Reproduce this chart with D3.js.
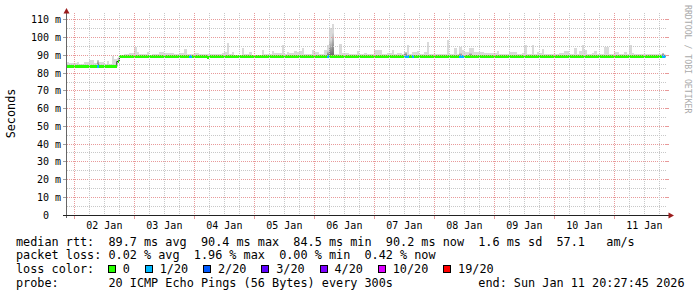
<!DOCTYPE html>
<html>
<head>
<meta charset="utf-8">
<script src="https://cdn.jsdelivr.net/npm/d3@7"></script>
<style>
body { margin: 0; background: #fff; }
text { font-family: "DejaVu Sans Mono", monospace; }
</style>
</head>
<body>
<div id="chart"></div>
<script>
// time window of the graph
const startTime = new Date(2026, 0, 1, 20, 27, 45);
const endTime = new Date(2026, 0, 11, 20, 27, 45);
const firstHour = new Date(2026, 0, 1, 20);

// hourly median rtt (ms), one per hour from firstHour
const medianRtt = [
  84.5, 84.5, 84.5, 84.5, 84.5, 84.5, 84.5, 84.5, 84.5, 84.5, 84.5, 84.5, 84.5, 84.5, 84.5, 84.5, 84.5, 84.5, 84.5, 84.5, 84.5, 87.5, 90.2, 90.2,
  90.2, 90.2, 90.2, 90.2, 90.2, 90.2, 90.2, 90.2, 90.2, 90.2, 90.2, 90.2, 90.2, 90.2, 90.2, 90.2, 90.2, 90.2, 90.2, 90.2, 90.2, 90.2, 90.2, 90.2,
  90.2, 90.2, 90.2, 90.2, 90.2, 90.2, 90.2, 90.2, 90.2, 89.4, 90.2, 90.2, 90.2, 90.2, 90.2, 90.2, 90.2, 90.2, 90.2, 90.2, 90.2, 90.2, 90.2, 90.2,
  90.2, 90.2, 90.2, 90.2, 90.2, 90.2, 90.2, 90.2, 90.2, 90.2, 90.2, 90.2, 90.2, 90.2, 90.2, 90.2, 90.2, 90.2, 90.2, 90.2, 90.2, 90.2, 90.2, 90.2,
  90.2, 90.2, 90.2, 90.2, 90.2, 90.2, 90.2, 90.2, 90.2, 90.2, 90.2, 90.2, 90.2, 90.2, 90.2, 90.2, 90.2, 90.2, 90.2, 90.2, 90.2, 90.2, 90.2, 90.2,
  90.2, 90.2, 90.2, 90.2, 90.2, 90.2, 90.2, 90.2, 90.2, 90.2, 90.2, 90.2, 90.2, 90.2, 90.2, 90.2, 90.2, 90.2, 90.2, 90.2, 90.2, 90.2, 90.2, 90.2,
  90.2, 90.2, 90.2, 90.2, 90.2, 90.2, 90.2, 90.2, 90.2, 90.2, 90.2, 90.2, 90.2, 90.2, 90.2, 90.2, 90.2, 90.2, 90.2, 90.2, 90.2, 90.2, 90.2, 90.2,
  90.2, 90.2, 90.2, 90.2, 90.2, 90.2, 90.2, 90.2, 90.2, 90.2, 90.2, 90.2, 90.2, 90.2, 90.2, 90.2, 90.2, 90.2, 90.2, 90.2, 90.2, 90.2, 90.2, 90.2,
  90.2, 90.2, 90.2, 90.2, 90.2, 90.2, 90.2, 90.2, 90.2, 90.2, 90.2, 90.2, 90.2, 90.2, 90.2, 90.2, 90.2, 90.2, 90.2, 90.2, 90.2, 90.2, 90.2, 90.2,
  90.2, 90.2, 90.2, 90.2, 90.2, 90.2, 90.2, 90.2, 90.2, 90.2, 90.2, 90.2, 90.2, 90.2, 90.2, 90.2, 90.2, 90.2, 90.2, 90.2, 90.2, 90.2, 90.2, 90.2, 90.2
];

// hourly max ping (top of the smoke), ms
const smokeMax = [
  86.6, 86.6, 86.0, 86.0, 86.0, 86.6, 85.7, 85.7, 86.6, 86.6, 87.9, 87.9, 86.2, 87.9, 86.6, 86.6, 85.7, 87.2, 85.7, 89.8, 88.5, 89.0, 90.8, 90.8,
  91.3, 91.3, 91.9, 91.9, 95.1, 92.3, 91.3, 91.3, 91.3, 92.3, 90.8, 91.3, 91.3, 91.3, 92.4, 92.4, 91.9, 91.9, 91.7, 91.7, 91.3, 91.3, 91.7, 91.7,
  94.1, 91.3, 91.3, 91.3, 91.7, 91.7, 91.3, 91.3, 91.3, 91.0, 91.3, 91.0, 91.0, 91.3, 91.3, 91.7, 92.3, 97.5, 91.0, 92.3, 90.8, 90.8, 90.8, 94.5,
  91.0, 91.0, 92.3, 90.8, 90.8, 90.8, 90.8, 93.6, 91.0, 91.0, 91.0, 92.8, 91.7, 91.7, 91.7, 96.0, 91.3, 92.3, 91.7, 91.7, 92.8, 92.3, 92.8, 94.5,
  91.3, 91.3, 91.3, 93.6, 92.3, 92.3, 91.0, 91.0, 93.6, 96.0, 105.5, 108.0, 91.3, 91.3, 96.8, 91.7, 91.7, 91.7, 91.0, 91.0, 91.0, 92.8, 91.0, 91.0,
  91.7, 91.0, 91.0, 91.0, 93.6, 93.6, 93.6, 91.0, 91.0, 91.7, 91.7, 93.6, 91.0, 91.7, 91.7, 91.0, 92.3, 96.0, 91.0, 92.3, 92.3, 92.8, 91.0, 91.0,
  92.3, 97.9, 91.0, 91.0, 91.0, 91.0, 91.0, 91.0, 91.0, 99.2, 91.0, 91.0, 94.7, 91.0, 95.1, 93.6, 92.3, 92.3, 94.7, 94.7, 92.3, 92.3, 92.3, 92.3,
  91.7, 91.7, 91.7, 91.7, 91.7, 92.8, 91.0, 91.0, 91.0, 91.0, 92.3, 92.3, 92.3, 91.0, 91.0, 91.7, 96.4, 91.0, 91.0, 96.4, 91.0, 92.3, 91.7, 94.1,
  91.0, 91.3, 91.3, 91.0, 91.0, 91.0, 91.7, 91.7, 92.8, 92.8, 91.3, 91.3, 94.7, 91.3, 92.8, 96.4, 93.6, 91.0, 91.0, 91.7, 92.8, 91.0, 91.0, 91.0,
  95.1, 95.1, 91.0, 91.0, 92.3, 92.3, 91.0, 91.0, 92.3, 91.0, 96.4, 91.7, 91.0, 91.0, 91.3, 91.3, 91.3, 91.3, 91.0, 91.3, 91.3, 91.3, 91.3, 91.3, 91.0
];

// hours where most pings bunch up (darker smoke): [hour index, top ms]
const denseSmoke = [[13, 87.6], [105, 92.5], [106, 99.0], [107, 103.0], [136, 92.0], [158, 91.8], [162, 91.6], [239, 91.5]];

// hours with lost pings: [hour index, lost of 20]
const lossHours = [[13, 1], [50, 1], [105, 1], [136, 1], [137, 1], [139, 1], [158, 1], [159, 1], [239, 1], [240, 1]];

const yTicks = [0, 10, 20, 30, 40, 50, 60, 70, 80, 90, 100, 110];
const yMinor = [5, 15, 25, 35, 45, 55, 65, 75, 85, 95, 105];

const lossLabels = ["0", "1/20", "2/20", "3/20", "4/20", "10/20", "19/20"];
const lossColors = ["#26ff00", "#00b8ff", "#0059ff", "#5e00ff", "#7e00ff", "#dd00ff", "#ff0000"];
const lossSteps = [1, 2, 3, 4, 10, 19];

const legendRows = [
  "median rtt:  89.7 ms avg  90.4 ms max  84.5 ms min  90.2 ms now  1.6 ms sd  57.1   am/s",
  "packet loss: 0.02 % avg  1.96 % max  0.00 % min  0.42 % now",
  "loss color:",
  "probe:       20 ICMP Echo Pings (56 Bytes) every 300s"
];
const endLabel = "end: Sun Jan 11 20:27:45 2026";

var width = 697, height = 297;
var plotLeft = 65.5, plotRight = 665.5, plotTop = 15.5, plotBottom = 215.5;

var svg = d3.select("#chart")
  .append("svg")
  .attr("width", width)
  .attr("height", height);

var x = d3.scaleTime().domain([startTime, endTime]).range([plotLeft, plotRight]);
var y = d3.scaleLinear().domain([0, 112.8]).range([plotBottom, plotTop]);
var lossColor = d3.scaleThreshold().domain(lossSteps).range(lossColors);
var hour = i => d3.timeHour.offset(firstHour, i);
var py = v => Math.round(y(v)) - 0.5;
var hx = i => Math.round(x(hour(i)));
// pixel row where the 3px median band starts
var lineTop = v => Math.round(y(v) - 0.5);

var gridMinor = "#c8c8c8", gridMajor = "#e89a9a";

svg.append("clipPath").attr("id", "plot")
  .append("rect").attr("x", 67).attr("y", 0).attr("width", plotRight - 67).attr("height", plotBottom);

var grad = svg.append("defs").append("linearGradient")
  .attr("id", "dense").attr("x1", 0).attr("y1", 0).attr("x2", 0).attr("y2", 1);
grad.append("stop").attr("offset", "0%").attr("stop-color", "#d6d6d6");
grad.append("stop").attr("offset", "100%").attr("stop-color", "#666666");

// smoke
var plot = svg.append("g").attr("clip-path", "url(#plot)");

plot.selectAll(".smoke")
  .data(smokeMax)
  .enter().append("rect")
  .attr("shape-rendering", "crispEdges")
  .attr("x", (d, i) => hx(i))
  .attr("width", (d, i) => hx(i + 1) - hx(i))
  .attr("y", d => Math.round(y(d)))
  .attr("height", (d, i) => Math.max(0, lineTop(medianRtt[i]) - Math.round(y(d)) + 1))
  .attr("fill", "#dadada");

plot.selectAll(".dense")
  .data(denseSmoke)
  .enter().append("rect")
  .attr("shape-rendering", "crispEdges")
  .attr("x", d => hx(d[0]))
  .attr("width", d => hx(d[0] + 1) - hx(d[0]))
  .attr("y", d => Math.round(y(d[1])))
  .attr("height", d => lineTop(medianRtt[d[0]]) - Math.round(y(d[1])) + 1)
  .attr("fill", "url(#dense)");

// grid
var grid = svg.append("g").attr("shape-rendering", "crispEdges").attr("stroke-dasharray", "1,1");

grid.selectAll(".hmin")
  .data(yMinor)
  .enter().append("line")
  .attr("x1", 67).attr("x2", plotRight)
  .attr("y1", d => py(d)).attr("y2", d => py(d))
  .attr("stroke", gridMinor);

grid.selectAll(".hmaj")
  .data(yTicks.slice(1))
  .enter().append("line")
  .attr("x1", 67).attr("x2", plotRight)
  .attr("y1", d => py(d)).attr("y2", d => py(d))
  .attr("stroke", gridMajor);

var days = d3.timeDay.range(startTime, endTime);
var sixHours = d3.timeHour.every(6).range(startTime, endTime).filter(d => d.getHours() != 0);
var px = d => Math.round(x(d)) + 0.5;

grid.selectAll(".vmin")
  .data(sixHours)
  .enter().append("line")
  .attr("x1", px).attr("x2", px)
  .attr("y1", 13).attr("y2", plotBottom)
  .attr("stroke", gridMinor);

grid.selectAll(".vmaj")
  .data(days)
  .enter().append("line")
  .attr("x1", px).attr("x2", px)
  .attr("y1", 13).attr("y2", plotBottom)
  .attr("stroke", gridMajor);

// tick marks
var ticks = svg.append("g").attr("shape-rendering", "crispEdges");
ticks.selectAll(".yt")
  .data(yTicks)
  .enter().append("line")
  .attr("x1", 63).attr("x2", 66)
  .attr("y1", d => py(d)).attr("y2", d => py(d))
  .attr("stroke", "#a0a0a0");
ticks.selectAll(".yr")
  .data(yTicks.slice(1))
  .enter().append("line")
  .attr("x1", plotRight).attr("x2", 669)
  .attr("y1", d => py(d)).attr("y2", d => py(d))
  .attr("stroke", gridMajor);
ticks.selectAll(".xt")
  .data(days)
  .enter().append("line")
  .attr("x1", px).attr("x2", px)
  .attr("y1", plotBottom).attr("y2", plotBottom + 3)
  .attr("stroke", gridMajor);

// median line: thin dark step line, then the loss coloured band on top
var medianLine = d3.line()
  .x(d => x(d[0]))
  .y(d => lineTop(d[1]) + 1.5)
  .curve(d3.curveStepAfter);

var pts = medianRtt.map((d, i) => [hour(i), d]);
pts.push([hour(medianRtt.length), medianRtt[medianRtt.length - 1]]);

plot.append("path")
  .datum(pts)
  .attr("d", medianLine)
  .attr("fill", "none")
  .attr("stroke", "#202020")
  .attr("stroke-width", 1);

var lossOf = {};
lossHours.forEach(d => { lossOf[d[0]] = d[1]; });

plot.selectAll(".loss")
  .data(medianRtt)
  .enter().append("rect")
  .attr("shape-rendering", "crispEdges")
  .attr("x", (d, i) => hx(i) + (i == 21 ? 1 : 0))
  .attr("width", (d, i) => hx(i + 1) - hx(i) - (i == 21 ? 1 : 0))
  .attr("y", d => lineTop(d))
  .attr("height", 3)
  .attr("fill", (d, i) => lossColor(lossOf[i] || 0));

// axes
var axes = svg.append("g").attr("shape-rendering", "crispEdges");
axes.append("line")
  .attr("x1", 66.5).attr("x2", 66.5).attr("y1", 218).attr("y2", 12)
  .attr("stroke", "#666");
axes.append("line")
  .attr("x1", 63).attr("x2", 669).attr("y1", plotBottom).attr("y2", plotBottom)
  .attr("stroke", "#222");
svg.append("path")
  .attr("d", "M63.5,13.5 L69.5,13.5 L66.5,8 Z")
  .attr("fill", "#9b1c1c");
svg.append("path")
  .attr("d", "M668.5,212.5 L668.5,218.5 L674,215.5 Z")
  .attr("fill", "#9b1c1c");

// y labels
svg.selectAll(".ylab")
  .data(yTicks)
  .enter().append("text")
  .attr("x", 61)
  .attr("y", d => py(d) + 3.8)
  .attr("text-anchor", "end")
  .attr("font-size", "10px")
  .attr("xml:space", "preserve")
  .style("white-space", "pre")
  .text(d => d == 0 ? "0  " : d + " m");

// x labels, centred on noon
svg.selectAll(".xlab")
  .data(days)
  .enter().append("text")
  .attr("x", d => x(d3.timeHour.offset(d, 12)))
  .attr("y", 228.5)
  .attr("text-anchor", "middle")
  .attr("font-size", "10px")
  .text(d3.timeFormat("%d %b"));

svg.append("text")
  .attr("transform", "translate(14.5,113.5) rotate(-90)")
  .attr("text-anchor", "middle")
  .attr("font-size", "11.8px")
  .text("Seconds");

svg.append("text")
  .attr("transform", "translate(685,5) rotate(90)")
  .attr("font-size", "8.2px")
  .attr("fill", "#aaa")
  .text("RRDTOOL / TOBI OETIKER");

// legend
var rowY = [245.5, 259.2, 273.1, 286.7];
svg.selectAll(".leg")
  .data(legendRows)
  .enter().append("text")
  .attr("x", 16)
  .attr("y", (d, i) => rowY[i])
  .attr("font-size", "11.82px")
  .attr("xml:space", "preserve")
  .style("white-space", "pre")
  .text(d => d);

svg.append("text")
  .attr("x", 478.3)
  .attr("y", rowY[3])
  .attr("font-size", "11.82px")
  .style("white-space", "pre")
  .text(endLabel);

var lx = 108.5;
lossLabels.forEach((lab, i) => {
  svg.append("rect")
    .attr("x", lx).attr("y", 265.5)
    .attr("width", 7).attr("height", 7)
    .attr("fill", lossColors[i])
    .attr("stroke", "#000")
    .attr("shape-rendering", "crispEdges");
  var t = svg.append("text")
    .attr("x", lx + 14.3)
    .attr("y", rowY[2])
    .attr("font-size", "11.82px")
    .text(lab);
  lx = lx + 14.3 + t.node().getComputedTextLength() + 15.5;
});
</script>
</body>
</html>
